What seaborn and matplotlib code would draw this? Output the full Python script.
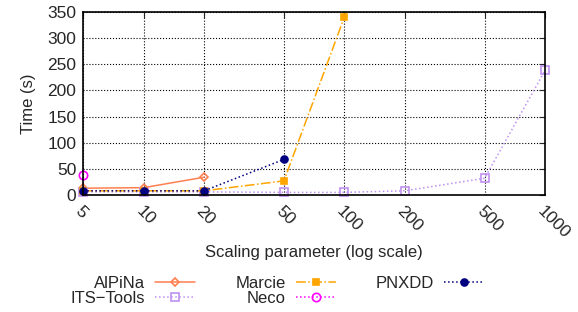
import seaborn as sns
import matplotlib.pyplot as plt

# scaling parameter values (x axis)
alpina_x = [5, 10, 20]
alpina_y = [13, 14, 34]

its_x = [5, 10, 20, 50, 100, 200, 500, 1000]
its_y = [6, 6, 6, 5, 5, 8, 32, 238]

marcie_x = [5, 10, 20, 50, 100]
marcie_y = [8, 8, 8, 27, 340]

neco_x = [5]
neco_y = [39]

pnxdd_x = [5, 10, 20, 50]
pnxdd_y = [8, 8, 8, 68]

xticks = [5, 10, 20, 50, 100, 200, 500, 1000]
yticks = [0, 50, 100, 150, 200, 250, 300, 350]

sns.set_style("white")
plt.rcParams['font.family'] = ['Liberation Sans', 'DejaVu Sans']
plt.rcParams['font.size'] = 12

fig, ax = plt.subplots(figsize=(5.78, 3.12), dpi=100)
fig.subplots_adjust(left=0.144, right=0.943, top=0.962, bottom=0.375)

series = [
    ("AlPiNa", alpina_x, alpina_y, "#ff7f50", "-", "D", True, 4),
    ("ITS\u2212Tools", its_x, its_y, "#c090f0", ":", "s", True, 6),
    ("Marcie", marcie_x, marcie_y, "#ffa500", "-.", "s", False, 5),
    ("Neco", neco_x, neco_y, "#ff00ff", ":", "o", True, 6),
    ("PNXDD", pnxdd_x, pnxdd_y, "#000080", ":", "o", False, 5),
]

for name, xs, ys, col, ls, mk, hollow, ms in series:
    sns.lineplot(x=xs, y=ys, ax=ax, color=col, linestyle=ls, marker=mk,
                 markersize=ms, markeredgecolor=col,
                 markerfacecolor='none' if hollow else col,
                 markeredgewidth=1.2, linewidth=1.1, label=name, clip_on=False)

ax.set_xscale('log')
ax.set_xlim(5, 1000)
ax.set_ylim(0, 350)
ax.set_xticks(xticks)
ax.set_xticklabels([str(t) for t in xticks], rotation=-45, ha='left', rotation_mode='anchor')
ax.minorticks_off()
ax.set_yticks(yticks)
ax.tick_params(direction='in', top=True, right=True, length=4, labelsize=12.5)
ax.tick_params(axis='x', pad=6)
ax.tick_params(axis='y', pad=5)
ax.grid(True, color='black', linestyle=':', linewidth=0.8)
for s in ax.spines.values():
    s.set_color('black')
    s.set_linewidth(1.2)

ax.set_xlabel("Scaling parameter (log scale)", fontsize=12, labelpad=3)
ax.set_ylabel("Time (s)", fontsize=12, labelpad=8)

handles, labels = ax.get_legend_handles_labels()
ax.get_legend().remove()
fig.legend(handles, labels, ncol=3, loc='center', bbox_to_anchor=(0.48, 0.068),
           frameon=False, markerfirst=False, fontsize=12, handlelength=2.4,
           columnspacing=2.4, labelspacing=0.0, handletextpad=0.6)

plt.savefig("out.png")
